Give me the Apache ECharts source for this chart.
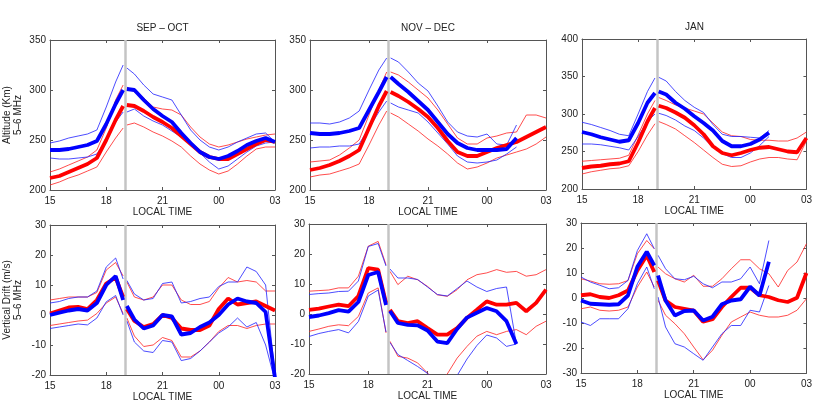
<!DOCTYPE html>
<html><head><meta charset="utf-8">
<script src="https://cdn.jsdelivr.net/npm/echarts/dist/echarts.min.js"></script>
<style>html,body{margin:0;padding:0;background:#fff}#c{width:815px;height:404px}</style>
</head><body><div id="c"></div>
<script>
// Local time (hours, 27 = 03 next day); 19 is the gap at the grey marker
const hours = [15,15.5,16,16.5,17,17.5,18,18.5,18.9,19,19.1,19.5,20,20.5,21,21.5,22,22.5,23,23.5,24,24.5,25,25.5,26,26.5,27];
const markerHour = 19;
const titles = ['SEP – OCT', 'NOV – DEC', 'JAN'];

// ---- Altitude (km), SEP-OCT ----
const altSO_redMean = [212,214,218,222,226,232,250,270,284,null,285,284,279,273,268,262,254,246,238,233,231,231,236,241,246,250,248];
const altSO_redUp   = [218,221,225,229,233,240,262,290,305,null,303,298,292,283,281,280,275,263,253,246,243,245,248,251,253,255,256];
const altSO_redLo   = [205,208,212,215,219,223,238,252,262,null,265,267,263,258,254,249,243,234,226,220,216,219,226,234,241,243,243];
const altSO_bluMean = [240,240,241,243,245,249,266,286,300,null,301,300,290,281,274,268,257,247,238,233,231,234,239,245,249,252,248];
const altSO_bluUp   = [247,249,252,254,256,260,283,308,325,null,322,316,305,296,293,290,275,260,250,243,240,243,248,252,256,257,248];
const altSO_bluLo   = [232,231,231,232,233,236,250,268,278,null,278,281,274,269,265,259,253,246,237,228,221,224,231,238,244,247,248];

// ---- Altitude (km), NOV-DEC ----
const altND_redMean = [220,222,225,229,234,240,262,284,299,null,298,294,288,281,273,262,249,238,234,234,238,242,245,248,253,258,263];
const altND_redUp   = [228,229,230,235,242,250,275,300,318,null,318,315,308,300,292,280,266,252,246,246,252,254,257,258,275,275,272];
const altND_redLo   = [213,215,216,219,222,226,245,265,279,null,277,273,266,259,251,244,236,227,221,223,227,232,235,238,241,246,253];
const altND_bluMean = [257,256,256,257,259,262,280,298,313,null,313,306,298,289,280,268,256,247,242,240,240,240,241,252];
const altND_bluUp   = [267,267,266,268,272,279,300,320,332,null,332,328,318,307,299,284,268,258,254,253,256,246,245,265];
const altND_bluLo   = [242,243,243,244,244,246,262,278,289,null,287,283,280,277,268,257,246,234,228,227,228,230,236,243];

// ---- Altitude (km), JAN ----
const altJA_redMean = [228,230,231,233,234,237,262,290,308,null,311,308,302,295,285,273,257,248,245,248,252,255,256,253,250,249,268];
const altJA_redUp   = [237,238,239,240,241,245,272,300,318,null,322,318,312,308,304,300,288,276,271,270,266,265,265,264,264,268,276];
const altJA_redLo   = [220,223,225,227,228,231,250,272,287,null,290,286,280,271,262,252,242,233,230,231,236,240,242,242,240,239,264];
const altJA_bluMean = [276,273,269,266,263,265,288,315,328,null,330,326,315,307,297,288,278,264,257,257,260,266,275];
const altJA_bluUp   = [289,286,282,278,273,271,300,330,348,null,349,344,330,318,309,302,286,273,270,270,269,268,278];
const altJA_bluLo   = [260,260,259,257,255,252,270,290,300,null,301,298,292,284,278,268,256,247,242,242,248,258,270];

// ---- Vertical drift (m/s), SEP-OCT ----
const drSO_redMean = [0.5,1.5,2.5,2.7,2,5,10.5,12.5,6,null,2,-2,-4,-3,0,-1,-4.5,-5,-5,-3.5,2,5.5,3.5,4,4.5,3,1.5];
const drSO_redUp   = [5,5.5,6,6,6,7.5,15,17.5,13,null,11,6,5,6,10,10,5,3.5,3.5,4.5,9,12.5,11,11.5,11,8,8];
const drSO_redLo   = [-3.5,-3,-2.5,-2,-1.7,0.5,4,6,0.5,null,-1,-7,-10.5,-10,-7.5,-8.5,-14,-14,-12,-9,-5.5,-3.5,-3.5,-4.5,-3.5,-3,-3];
const drSO_bluMean = [0,0.8,1.5,2,1.5,4,10,13,5,null,3,-1.5,-4.5,-3.5,0,-0.5,-6.5,-6,-4,-2.5,0,3.5,5.5,4.5,4,1,-21];
const drSO_bluUp   = [4,4.5,5.5,6,6,8,16,19,12,null,11.5,7,5,5.5,10.5,11,4,4.5,5.5,6,9.5,11,11,16,14.5,10,-20];
const drSO_bluLo   = [-4.5,-4,-3.5,-3,-3.3,-1,4.4,6.5,0,null,-2,-9,-12,-12.5,-8.5,-9,-15.2,-14.5,-12,-9,-6,-4,-1,-4,-2.5,-10,-22];

// ---- Vertical drift (m/s), NOV-DEC ----
const drND_redMean = [1.4,1.8,2.5,3.1,2.6,6,15.3,14.8,3.7,null,1.4,-2.4,-3,-2.4,-4.7,-6.9,-6.9,-4.7,-1.3,1.4,4.2,3.1,3.1,3.7,0.9,3.7,8.1];
const drND_redUp   = [7.6,7.8,8,8.7,8.7,12.6,22.6,24.2,16.4,null,14.2,9.8,12.6,11.4,9.2,6.4,5.9,8.1,11.4,13.1,13.7,14.8,13.9,14.2,12.6,13.1,14.8];
const drND_redLo   = [-5.8,-5,-4.1,-3.6,-3.9,-0.8,7,8.7,-6.3,null,-9.1,-14.1,-14.7,-16.3,-19.7,-23,-20,-14.7,-10.8,-7.4,-5.8,-6.9,-5.8,-5.2,-6.9,-4.1,-2.4];
const drND_bluMean = [-1,-0.5,0.3,1.3,0.8,4,13,14,3,null,1,-3,-3.6,-3.8,-5.5,-9.2,-9.7,-5,-1.2,0.4,2,0.9,-2.4,-10];
const drND_bluUp   = [6.5,6.8,7,7.5,7.6,11,22.5,23.5,16,null,15,12,12,11.5,9,6.5,6,8.5,11,9,7.5,8.5,9,-10];
const drND_bluLo   = [-7.5,-6.5,-5.8,-5.2,-6.3,-2.5,6,8,-6,null,-9.5,-13.5,-15.5,-17.5,-19.8,-23,-26,-20.5,-15,-10.5,-7,-8,-10.8,-10];

// ---- Vertical drift (m/s), JAN ----
const drJA_redMean = [1.1,1.5,0.4,0,1.1,3,11,17,10.4,null,7,-1,-3.6,-4.3,-5,-9.5,-8.5,-3.6,0.4,4.1,4.1,1.1,0.4,-0.9,-1.6,0.1,10];
const drJA_redUp   = [7.7,6.8,5.7,5.5,5.7,7,17.7,23,19.7,null,12.4,9.7,7.7,6.4,9.1,4.7,4.7,7.7,11.7,15.3,15.3,11.7,9.7,4.4,11,14.4,21.7];
const drJA_redLo   = [-4.3,-3.6,-4.9,-5.2,-4.9,-3.6,4.4,10.4,4.4,null,-0.9,-6.9,-10.3,-14.3,-19.6,-24.7,-20.9,-14.9,-9.6,-7.6,-5.6,-6.9,-7.6,-7.6,-6.9,-4.9,-0.3];
const drJA_bluMean = [-1,-2.3,-2.5,-2.7,-2.5,1,12.5,18.5,13,null,9,-1,-7,-5.2,-5,-9,-7.5,-2.5,-1,-0.5,4.5,1,14.5];
const drJA_bluUp   = [8.4,6.4,5.1,3.7,4.1,7,19,25.7,19.7,null,17.1,11.7,7.7,7.3,8.7,5.7,4.1,6.4,6.4,7.7,12.4,5.7,23];
const drJA_bluLo   = [-9.6,-11,-8.3,-8.3,-8.3,-4.3,5.7,12.4,3.7,null,0.4,-11.6,-18.3,-19.6,-22.3,-24.9,-19.6,-14.3,-11,-11,-4.9,-5.6,5];

// axis ranges
const yAltRange   = [200, 350, 50];
const yAltJanRange= [200, 400, 50];
const yDrRange    = [-20, 30, 10];
const yDrJanRange = [-30, 30, 10];

const panels = [
  {grid:{left:50, top:40, width:225, height:150}, y:yAltRange, yName:'Altitude (Km)\n5–6 MHz', title:titles[0],
   s:[altSO_redUp, altSO_redLo, altSO_bluUp, altSO_bluLo, altSO_redMean, altSO_bluMean]},
  {grid:{left:310, top:40, width:236, height:150}, y:yAltRange, yName:'', title:titles[1],
   s:[altND_redUp, altND_redLo, altND_bluUp, altND_bluLo, altND_redMean, altND_bluMean]},
  {grid:{left:582, top:39, width:225, height:150}, y:yAltJanRange, yName:'', title:titles[2],
   s:[altJA_redUp, altJA_redLo, altJA_bluUp, altJA_bluLo, altJA_redMean, altJA_bluMean]},
  {grid:{left:50, top:225, width:225, height:150}, y:yDrRange, yName:'Vertical Drift (m/s)\n5–6 MHz', title:'',
   s:[drSO_redUp, drSO_redLo, drSO_bluUp, drSO_bluLo, drSO_redMean, drSO_bluMean]},
  {grid:{left:309, top:224, width:237, height:150}, y:yDrRange, yName:'', title:'',
   s:[drND_redUp, drND_redLo, drND_bluUp, drND_bluLo, drND_redMean, drND_bluMean]},
  {grid:{left:581, top:223, width:226, height:150}, y:yDrJanRange, yName:'', title:'',
   s:[drJA_redUp, drJA_redLo, drJA_bluUp, drJA_bluLo, drJA_redMean, drJA_bluMean]}
];

const FONT = 'Liberation Sans, Arial, Helvetica, sans-serif';
const TXT = '#222';
const AX = '#555';
const styles = [
  {color:'#ff2020', width:1, opacity:0.8},
  {color:'#ff2020', width:1, opacity:0.8},
  {color:'#2020ff', width:1, opacity:0.8},
  {color:'#2020ff', width:1, opacity:0.8},
  {color:'#ff0000', width:3.8, opacity:1},
  {color:'#0000ff', width:3.8, opacity:1}
];
const fmtHour = v => { const h = Math.round(v) % 24; return (h < 10 ? '0' : '') + h; };
const toPairs = arr => arr.map((v, i) => [hours[i], v === null ? '-' : v]);

const grid = [], xAxis = [], yAxis = [], series = [], graphic = [];
panels.forEach((p, gi) => {
  grid.push(Object.assign({containLabel:false}, p.grid));
  const common = {type:'value', gridIndex:gi, min:15, max:27, interval:3,
    axisLine:{show:true, onZero:false, lineStyle:{color:AX, width:1}},
    axisTick:{show:true, inside:true, length:3, lineStyle:{color:AX}},
    splitLine:{show:false}};
  xAxis.push(Object.assign({}, common, {position:'bottom',
    axisLabel:{show:true, formatter:fmtHour, color:TXT, fontSize:10, fontFamily:FONT, margin:6},
    name:'LOCAL TIME', nameLocation:'middle', nameGap:17,
    nameTextStyle:{color:TXT, fontSize:10, fontFamily:FONT}}));
  xAxis.push(Object.assign({}, common, {position:'top', axisLabel:{show:false}}));
  const yc = {type:'value', gridIndex:gi, min:p.y[0], max:p.y[1], interval:p.y[2],
    axisLine:{show:true, onZero:false, lineStyle:{color:AX, width:1}},
    axisTick:{show:true, inside:true, length:3, lineStyle:{color:AX}},
    splitLine:{show:false}};
  yAxis.push(Object.assign({}, yc, {position:'left',
    axisLabel:{show:true, color:TXT, fontSize:10, fontFamily:FONT, margin:4},
    name:p.yName, nameLocation:'middle', nameRotate:90, nameGap:26,
    nameTextStyle:{color:TXT, fontSize:10, fontFamily:FONT, lineHeight:11}}));
  yAxis.push(Object.assign({}, yc, {position:'right', axisLabel:{show:false}}));
  p.s.forEach((arr, si) => {
    const st = styles[si];
    const ser = {type:'line', xAxisIndex:gi*2, yAxisIndex:gi*2, data:toPairs(arr),
      showSymbol:false, symbol:'none', connectNulls:false, clip:true, silent:true,
      lineStyle:{color:st.color, width:st.width, opacity:st.opacity},
      z: si >= 4 ? 3 + si : 2};
    if (si === 0) {
      ser.markLine = {silent:true, symbol:'none', animation:false, label:{show:false},
        lineStyle:{color:'#c4c4c4', width:2.5, type:'solid'}, data:[{xAxis:markerHour}]};
    }
    series.push(ser);
  });
  if (p.title) {
    graphic.push({type:'text', x:p.grid.left + p.grid.width/2, y:p.grid.top - 12,
      style:{text:p.title, fill:TXT, font:'10px ' + FONT, align:'center', verticalAlign:'middle'}});
  }
});

const chart = echarts.init(document.getElementById('c'), null, {renderer:'canvas'});
chart.setOption({animation:false, backgroundColor:'#fff', grid, xAxis, yAxis, series, graphic});
</script>
</body></html>
